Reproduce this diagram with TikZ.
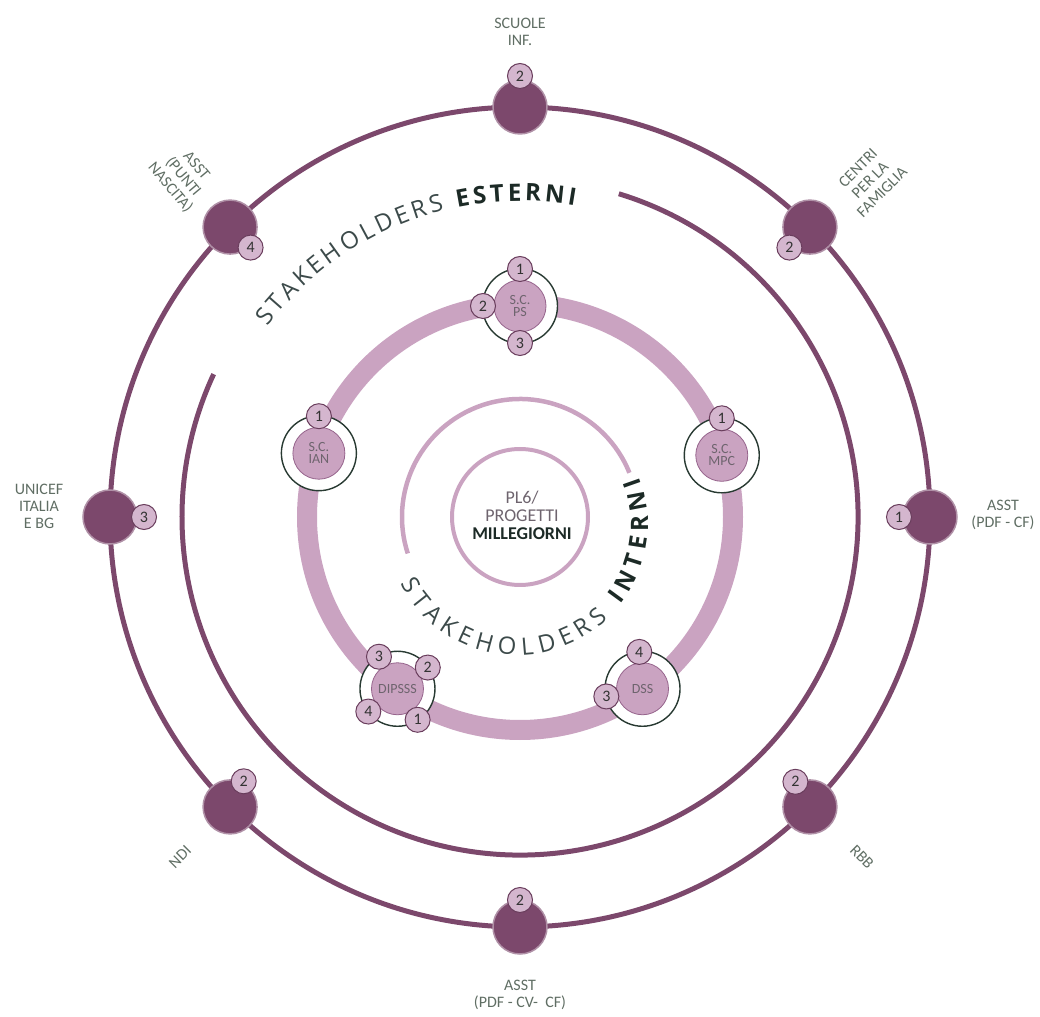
\documentclass[tikz,border=0pt]{standalone}
\usepackage{fontspec}
\setmainfont{Open Sans}
\newfontfamily\lblfont{Carlito}
\usetikzlibrary{decorations.text}
\definecolor{plum}{RGB}{124,72,108}
\definecolor{mauve}{RGB}{202,163,193}
\definecolor{mauvedark}{RGB}{150,100,140}
\definecolor{badgefill}{RGB}{212,182,206}
\definecolor{lblgray}{RGB}{96,110,100}
\definecolor{ringgreen}{RGB}{40,58,50}
\definecolor{titledark}{RGB}{28,42,38}
\definecolor{titlegray}{RGB}{60,74,74}
\definecolor{nodetext}{RGB}{110,100,110}

\begin{document}
\begin{tikzpicture}[x=1pt,y=1pt]
\tikzstyle{ext}=[circle,fill=plum,draw=plum!60,line width=1.5pt,minimum size=54pt,inner sep=0pt]
\tikzstyle{int}=[circle,fill=mauve,draw=mauvedark,line width=0.8pt,minimum size=52pt,inner sep=0pt,align=center,text=nodetext,font=\lblfont\fontsize{14}{12}\selectfont]
\tikzstyle{halo}=[circle,fill=white,draw=ringgreen,line width=1.4pt,minimum size=75pt,inner sep=0pt]
\tikzstyle{badge}=[circle,fill=badgefill,draw=plum!85!black,line width=1pt,minimum size=25pt,inner sep=0pt,text=black!80,font=\lblfont\fontsize{16}{16}\selectfont]
\tikzstyle{lbl}=[align=center,text=lblgray,font=\lblfont\fontsize{16}{17}\selectfont]

\useasboundingbox (-520,-499) rectangle (520,517);

% anelli
\draw[plum,line width=5pt] (0,0) circle (410pt);
\draw[plum,line width=5pt] (73:338pt) arc[start angle=73,end angle=-205,radius=338pt];
\draw[mauve,line width=20pt] (0,0) circle (213pt);
\draw[mauve,line width=4.5pt] (22:118pt) arc[start angle=22,end angle=198,radius=118pt];
\draw[mauve,line width=4pt] (0,0) circle (68pt);

\path[decorate,decoration={text along path,text align=fit to path,
  text={|\fontsize{24}{24}\selectfont\color{titlegray}|STAKEHOLDERS |\fontsize{24}{24}\selectfont\bfseries\color{titledark}|ESTERNI}}]
  (143:316pt) arc[start angle=143,end angle=80,radius=316pt];
\path[decorate,decoration={text along path,text align=fit to path,
  text={|\fontsize{24}{24}\selectfont\color{titlegray}|STAKEHOLDERS |\fontsize{24}{24}\selectfont\bfseries\color{titledark}|INTERNI}}]
  ([shift={(-3,-7)}]207:131pt) arc[start angle=207,end angle=381,radius=131pt];

\node[align=center,text=nodetext,font=\lblfont\fontsize{18}{18}\selectfont] (core) at (2,2)
  {PL6/\\PROGETTI\\\textbf{\color{titledark}MILLEGIORNI}};

% esterni
\foreach \a/\n/\k/\b/\d in {90/scuole/2/90/31,135/nascita/4/-45/29,45/centri/2/225/29,180/unicef/3/0/34,
  0/asstcf/1/180/31,225/ndi/2/62/29,315/rbb/2/120/29,270/asstcv/2/90/27}{
  \node[ext] (\n) at (\a:410pt) {};
  \node[badge] (\n-k) at ([shift={(\b:\d pt)}]\n.center) {\k};
}
\node[lbl] (scuole-t) at (0,485) {SCUOLE\\INF.};
\node[lbl,rotate=-50] (nascita-t) at (-337,340) {ASST\\(PUNTI\\NASCITA)};
\node[lbl,rotate=45] (centri-t) at (350,337) {CENTRI\\PER LA\\FAMIGLIA};
\node[lbl] (unicef-t) at (-481,11) {UNICEF\\ITALIA\\E BG};
\node[lbl] (asstcf-t) at (483,2) {ASST\\(PDF - CF)};
\node[lbl,rotate=45] (ndi-t) at (-340,-340) {NDI};
\node[lbl,rotate=-45] (rbb-t) at (342,-340) {RBB};
\node[lbl] (asstcv-t) at (0,-478) {ASST\\(PDF - CV-~ CF)};

% interni
\foreach \a/\n/\t in {90/ps/{S.C.\\PS},162.4/ian/{S.C.\\IAN},17/mpc/{S.C.\\MPC},234.5/dipsss/DIPSSS,305.5/dss/DSS}{
  \node[halo] (\n-h) at (\a:211pt) {};
  \node[int] (\n) at (\a:211pt) {\t};
}
\foreach \n/\k/\b in {ps/1/90,ps/2/180,ps/3/270,ian/1/90,mpc/1/90,
  dipsss/3/120,dipsss/2/35,dipsss/4/218,dipsss/1/303,dss/4/95,dss/3/192}{
  \node[badge] (\n-\k) at ([shift={(\b:37pt)}]\n.center) {\k};
}
\end{tikzpicture}
\end{document}
